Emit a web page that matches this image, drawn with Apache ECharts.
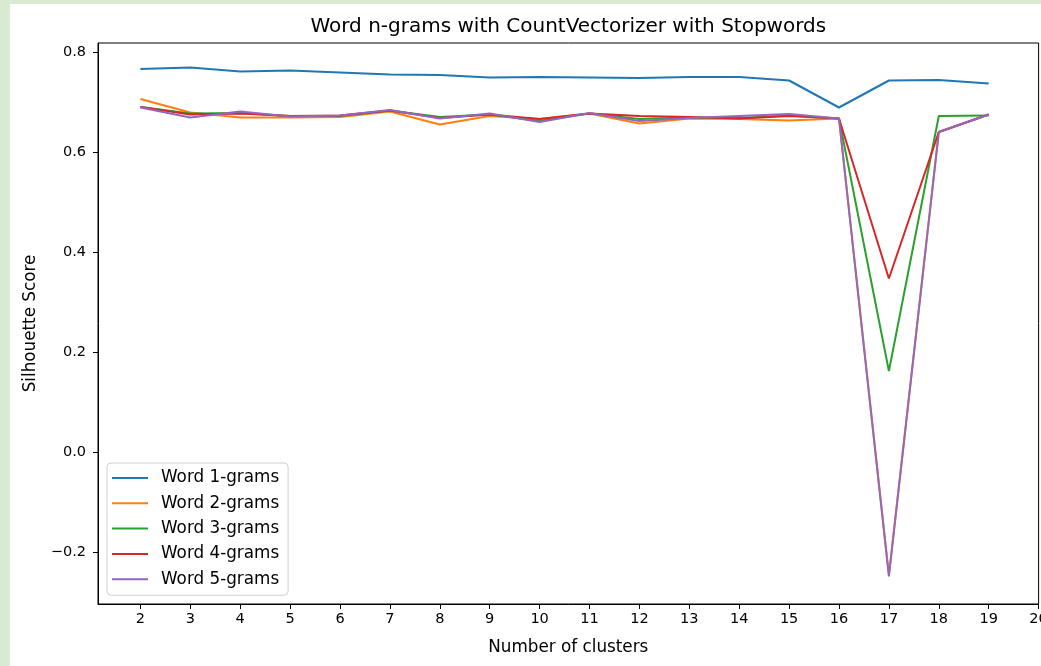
<!DOCTYPE html>
<html>
<head>
<meta charset="utf-8">
<script src="https://cdn.jsdelivr.net/npm/echarts@6/dist/echarts.min.js"></script>
<style>
  html, body { margin: 0; padding: 0; width: 1041px; height: 666px; background: #d9ead3; overflow: hidden; }
  #chart { position: absolute; left: 10px; top: 4px; width: 1031px; height: 662px; background: #ffffff; }
</style>
</head>
<body>
<div id="chart"></div>
<script>
// ---- data ----
const titleText = 'Word n-grams with CountVectorizer with Stopwords';
const xAxisTitle = 'Number of clusters';
const yAxisTitle = 'Silhouette Score';
const clusters = [2, 3, 4, 5, 6, 7, 8, 9, 10, 11, 12, 13, 14, 15, 16, 17, 18, 19];
const seriesNames = ['Word 1-grams', 'Word 2-grams', 'Word 3-grams', 'Word 4-grams', 'Word 5-grams'];
const word1 = [0.766, 0.769, 0.761, 0.763, 0.759, 0.755, 0.754, 0.749, 0.750, 0.749, 0.748, 0.750, 0.750, 0.743, 0.689, 0.743, 0.744, 0.737];
const word2 = [0.706, 0.679, 0.669, 0.669, 0.670, 0.681, 0.655, 0.672, 0.666, 0.677, 0.657, 0.667, 0.666, 0.663, 0.667, -0.245, 0.640, 0.675];
const word3 = [0.690, 0.677, 0.678, 0.672, 0.672, 0.683, 0.670, 0.675, 0.662, 0.677, 0.666, 0.669, 0.668, 0.673, 0.667, 0.162, 0.672, 0.673];
const word4 = [0.690, 0.675, 0.677, 0.672, 0.673, 0.683, 0.668, 0.675, 0.666, 0.677, 0.672, 0.670, 0.667, 0.672, 0.667, 0.347, 0.640, 0.675];
const word5 = [0.689, 0.669, 0.681, 0.671, 0.673, 0.684, 0.667, 0.677, 0.660, 0.678, 0.662, 0.668, 0.672, 0.676, 0.667, -0.249, 0.640, 0.675];
const xTicks = [2, 3, 4, 5, 6, 7, 8, 9, 10, 11, 12, 13, 14, 15, 16, 17, 18, 19, 20];
const yTicks = [-0.2, 0.0, 0.2, 0.4, 0.6, 0.8];
const colors = ['#1f77b4', '#ff7f0e', '#2ca02c', '#d62728', '#9467bd'];

const allValues = [word1, word2, word3, word4, word5];
const FONT = 'DejaVu Sans';

const chart = echarts.init(document.getElementById('chart'), null, { renderer: 'canvas' });

const gridLeft = 88, gridTop = 39, gridW = 940.6, gridH = 561;

const option = {
  animation: false,
  textStyle: { fontFamily: FONT },
  grid: {
    left: gridLeft, top: gridTop, width: gridW, height: gridH,
    containLabel: false, outerBoundsMode: 'none',
    show: true, borderColor: '#000', borderWidth: 1, backgroundColor: '#fff'
  },
  graphic: [{
    type: 'text',
    x: gridLeft + gridW / 2,
    y: 23,
    style: {
      text: titleText,
      fontFamily: FONT, fontSize: 20, fill: '#000',
      textAlign: 'center', textVerticalAlign: 'middle'
    }
  }],
  legend: {
    orient: 'vertical',
    left: 97, top: 459,
    data: seriesNames,
    icon: 'rect',
    itemWidth: 36, itemHeight: 2,
    itemGap: 5.3,
    padding: [5, 9, 6, 5],
    backgroundColor: 'rgba(255,255,255,0.8)',
    borderColor: '#d0d0d0', borderWidth: 1, borderRadius: 4,
    textStyle: { fontFamily: FONT, fontSize: 16.8, color: '#000', lineHeight: 20, padding: [0, 0, 0, 8] }
  },
  xAxis: {
    type: 'value',
    min: 1.15, max: 20,
    name: xAxisTitle, nameLocation: 'middle', nameGap: 35,
    nameTextStyle: { fontFamily: FONT, fontSize: 16.8, color: '#000' },
    axisLine: { show: true, onZero: false, lineStyle: { color: '#000', width: 1 } },
    axisTick: { show: true, length: 5, lineStyle: { color: '#000' }, customValues: xTicks },
    axisLabel: { show: true, customValues: xTicks, margin: 8, fontFamily: FONT, fontSize: 14.5, color: '#000' },
    splitLine: { show: false }
  },
  yAxis: {
    type: 'value',
    min: -0.304, max: 0.818,
    name: yAxisTitle, nameLocation: 'middle', nameGap: 59, nameRotate: 90,
    nameTextStyle: { fontFamily: FONT, fontSize: 16.8, color: '#000' },
    axisLine: { show: true, onZero: false, lineStyle: { color: '#000', width: 1 } },
    axisTick: { show: true, length: 5, lineStyle: { color: '#000' }, customValues: yTicks },
    axisLabel: {
      show: true, customValues: yTicks, margin: 12, fontFamily: FONT, fontSize: 14.5, color: '#000',
      formatter: v => v.toFixed(1).replace('-', '\u2212')
    },
    splitLine: { show: false }
  },
  series: seriesNames.map((name, i) => ({
    name: name,
    type: 'line',
    data: clusters.map((c, j) => [c, allValues[i][j]]),
    showSymbol: false,
    symbol: 'none',
    lineStyle: { color: colors[i], width: 2 },
    itemStyle: { color: colors[i] },
    z: 2 + i
  }))
};

chart.setOption(option);
</script>
</body>
</html>
